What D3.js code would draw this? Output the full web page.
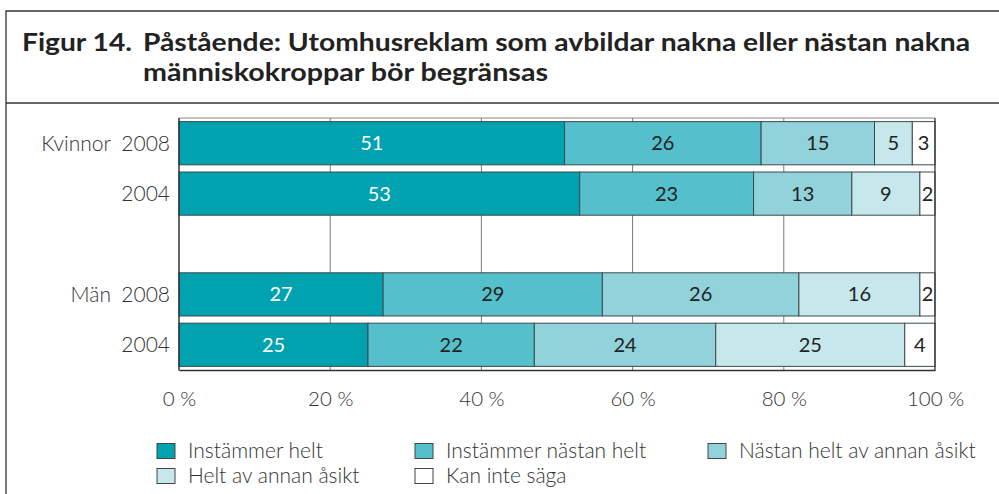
<!DOCTYPE html>
<html>
<head>
<meta charset="utf-8">
<script src="https://cdn.jsdelivr.net/npm/d3@7"></script>
<style>
  body { margin: 0; background: #fff; }
  svg { display: block; font-family: Lato, "Open Sans", sans-serif; }
</style>
</head>
<body>
<svg id="chart" width="999" height="494"></svg>
<script>
// data
var seriesNames = ["Instämmer helt", "Instämmer nästan helt", "Nästan helt av annan åsikt", "Helt av annan åsikt", "Kan inte säga"];
var rowGroups = ["Kvinnor", "", "", "Män", ""];
var rowYears = ["2008", "2004", "", "2008", "2004"];
var instammerHelt = [51, 53, null, 27, 25];
var instammerNastanHelt = [26, 23, null, 29, 22];
var nastanHeltAnnan = [15, 13, null, 26, 24];
var heltAnnan = [5, 9, null, 16, 25];
var kanInteSaga = [3, 2, null, 2, 4];
var xTicks = [0, 20, 40, 60, 80, 100];

var colors = ["#00a2b0", "#55bfcb", "#91d2db", "#c6e8ec", "#ffffff"];

var svg = d3.select("#chart");

// frame + title
svg.append("path")
    .attr("d", "M1005,11 H6 V500")
    .attr("fill", "none").attr("stroke", "#333").attr("stroke-width", 1.3);
svg.append("line")
    .attr("x1", 6).attr("x2", 1005).attr("y1", 103).attr("y2", 103)
    .attr("stroke", "#333").attr("stroke-width", 1.3);

var title = svg.append("g").attr("font-weight", "bold").attr("font-size", 25).attr("fill", "#222");
title.append("text").attr("x", 22).attr("y", 51).attr("textLength", 110).attr("lengthAdjust", "spacingAndGlyphs").text("Figur 14.");
title.append("text").attr("x", 143).attr("y", 51).attr("textLength", 827).attr("lengthAdjust", "spacingAndGlyphs")
    .text("Påstående: Utomhusreklam som avbildar nakna eller nästan nakna");
title.append("text").attr("x", 143).attr("y", 81).attr("textLength", 405).attr("lengthAdjust", "spacingAndGlyphs")
    .text("människokroppar bör begränsas");

// table for stacking
var table = rowYears.map(function(y, i) {
    return {
        idx: i,
        s0: instammerHelt[i], s1: instammerNastanHelt[i], s2: nastanHeltAnnan[i],
        s3: heltAnnan[i], s4: kanInteSaga[i]
    };
}).filter(function(d) { return d.s0 != null; });

var stack = d3.stack().keys(["s0", "s1", "s2", "s3", "s4"]);
var series = stack(table);

var x = d3.scaleLinear().domain([0, 100]).range([179, 935]);
var y = d3.scaleBand()
    .domain(d3.range(rowYears.length))
    .range([118, 370])
    .paddingInner(0.143)
    .paddingOuter(0.072);

// gridlines
svg.append("g")
    .selectAll("line")
    .data(xTicks.slice(1, -1))
    .enter().append("line")
    .attr("x1", function(d) { return x(d); })
    .attr("x2", function(d) { return x(d); })
    .attr("y1", 118).attr("y2", 370)
    .attr("stroke", "#7a7a7a").attr("stroke-width", 1);

svg.append("line")
    .attr("x1", 179).attr("x2", 935).attr("y1", 118).attr("y2", 118)
    .attr("stroke", "#888").attr("stroke-width", 1);

// bars
var groups = svg.append("g")
    .selectAll("g")
    .data(series)
    .enter().append("g")
    .attr("fill", function(d, i) { return colors[i]; });

groups.selectAll("rect")
    .data(function(d) { return d; })
    .enter().append("rect")
    .attr("x", function(d) { return x(d[0]); })
    .attr("y", function(d) { return y(d.data.idx); })
    .attr("width", function(d) { return x(d[1]) - x(d[0]); })
    .attr("height", y.bandwidth())
    .attr("stroke", "#3b4b4e").attr("stroke-width", 1);

groups.each(function(s, si) {
    d3.select(this).selectAll("text")
        .data(s)
        .enter().append("text")
        .attr("x", function(d) { return (x(d[0]) + x(d[1])) / 2; })
        .attr("y", function(d) { return y(d.data.idx) + y.bandwidth() / 2; })
        .attr("dy", "0.35em")
        .attr("text-anchor", "middle")
        .attr("font-size", 20)
        .attr("fill", si == 0 ? "#fff" : "#222")
        .text(function(d) { return d[1] - d[0]; });
});

// frame edges
svg.append("line").attr("x1", 179).attr("x2", 179).attr("y1", 118).attr("y2", 370.5)
    .attr("stroke", "#333").attr("stroke-width", 1.5);
svg.append("line").attr("x1", 935).attr("x2", 935).attr("y1", 118).attr("y2", 370.5)
    .attr("stroke", "#333").attr("stroke-width", 1.3);

// x axis
var xAxis = d3.axisBottom(x)
    .tickValues(xTicks)
    .tickSize(0)
    .tickPadding(21)
    .tickFormat(function(d) { return d + " %"; });

var ax = svg.append("g")
    .attr("transform", "translate(0,370)")
    .call(xAxis);
ax.select(".domain").attr("stroke", "#333").attr("stroke-width", 1.5);
ax.selectAll("text").attr("font-size", 20.5).attr("fill", "#333")
    .attr("font-weight", 300)
    .attr("font-family", "Lato, sans-serif");

// row labels
var rowLab = svg.append("g").attr("font-size", 21).attr("font-weight", 300).attr("fill", "#333");
rowYears.forEach(function(yr, i) {
    if (!yr) return;
    var cy = y(i) + y.bandwidth() / 2;
    rowLab.append("text").attr("x", 170).attr("y", cy).attr("dy", "0.35em")
        .attr("text-anchor", "end").text(yr);
    if (rowGroups[i]) {
        rowLab.append("text").attr("x", 111).attr("y", cy).attr("dy", "0.35em")
            .attr("text-anchor", "end").text(rowGroups[i]);
    }
});

// legend
var legendPos = [[157, 451], [415, 451], [708, 451], [157, 476], [415, 476]];
var legend = svg.append("g")
    .selectAll("g")
    .data(seriesNames)
    .enter().append("g")
    .attr("transform", function(d, i) { return "translate(" + legendPos[i][0] + "," + legendPos[i][1] + ")"; });

legend.append("rect")
    .attr("x", 0).attr("y", -7.5)
    .attr("width", 18).attr("height", 15)
    .attr("fill", function(d, i) { return colors[i]; })
    .attr("stroke", "#444").attr("stroke-width", 1);

legend.append("text")
    .attr("x", 31).attr("y", 0).attr("dy", "0.35em")
    .attr("font-size", 21).attr("font-weight", 300).attr("fill", "#333")
    .text(function(d) { return d; });
</script>
</body>
</html>
